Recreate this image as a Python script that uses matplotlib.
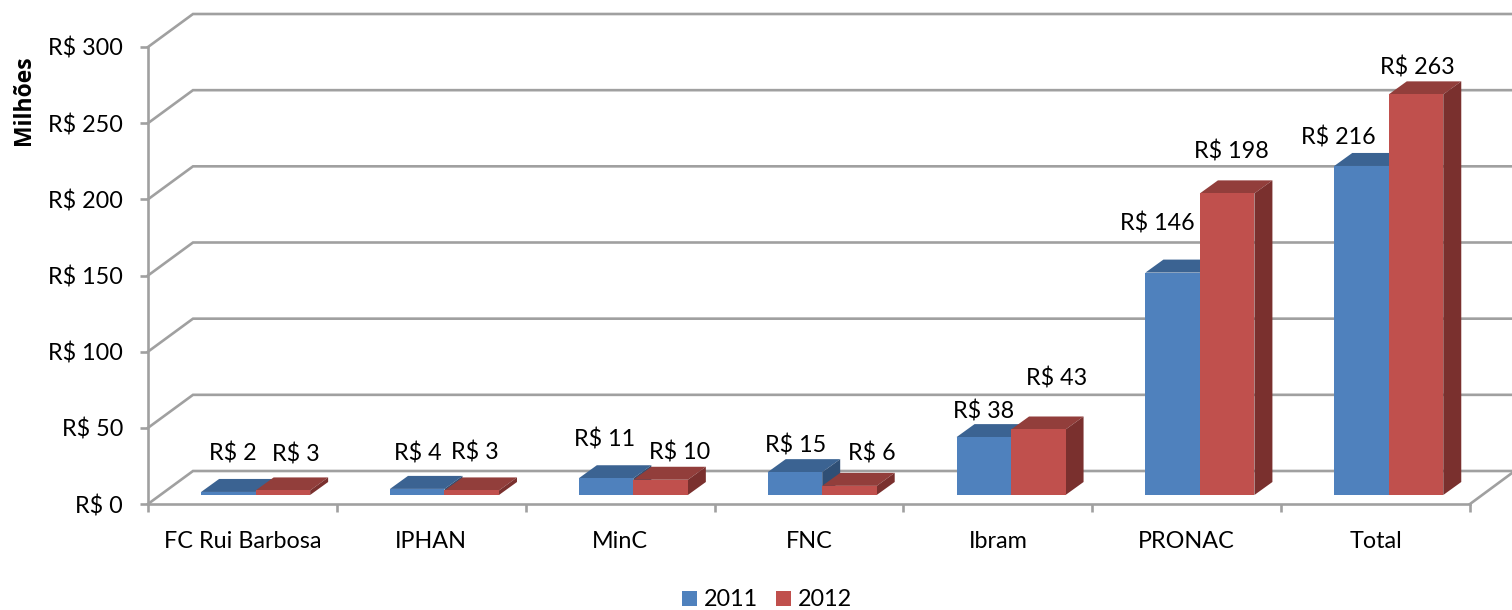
import matplotlib
matplotlib.use("Agg")
import matplotlib.pyplot as plt
from matplotlib.patches import Polygon, Patch

plt.rcParams['font.family'] = ['Lato', 'DejaVu Sans']

categories = ['FC Rui Barbosa', 'IPHAN', 'MinC', 'FNC', 'Ibram', 'PRONAC', 'Total']
values_2011 = [2, 4, 11, 15, 38, 146, 216]
values_2012 = [3, 3, 10, 6, 43, 198, 263]
y_ticks = [0, 50, 100, 150, 200, 250, 300]

# label offsets from the top-centre of each bar front, in pixels
offs_2011 = [(4, 38), (1, 35), (-2, 39), (1, 27), (0, 26), (-15, 49), (-23, 28)]
offs_2012 = [(13, 36), (3, 38), (19, 27), (22, 32), (18, 51), (4, 42), (1, 27)]

W, H = 1512, 610
L, R, T, B = 148, 1470, 47, 504
FS = 16.8
fig = plt.figure(figsize=(W / 100, H / 100), dpi=100, facecolor='white')
ax = fig.add_axes([L / W, 1 - B / H, (R - L) / W, (B - T) / H])
ax.set_xlim(-0.5, 6.5)
ax.set_ylim(0, 300)
ax.patch.set_visible(False)

px = 7 / (R - L)      # data units per pixel, x
py = 300 / (B - T)    # data units per pixel, y
GRID = '#A0A0A0'
LW = 1.9

# walls and floor
WALL_DX, WALL_DY = 45 * px, 33 * py
right_end = 6.5 + 42 * px
for v in y_ticks:
    ax.plot([-0.5, -0.5 + WALL_DX, right_end], [v, v + WALL_DY, v + WALL_DY],
            color=GRID, lw=LW, clip_on=False, zorder=1, solid_joinstyle='miter')
ax.plot([6.5, right_end], [0, 31 * py], color=GRID, lw=LW, clip_on=False, zorder=1)

# axes
for s in ('top', 'right'):
    ax.spines[s].set_visible(False)
for s in ('left', 'bottom'):
    ax.spines[s].set_color(GRID)
    ax.spines[s].set_linewidth(LW)
    ax.spines[s].set_zorder(1)
ax.set_yticks(y_ticks)
ax.set_yticklabels([f'R$ {v}' for v in y_ticks], fontsize=FS, color='black')
ax.tick_params(axis='y', length=6, width=LW, color=GRID, pad=12)
ax.set_xticks([i - 0.5 for i in range(len(categories) + 1)])
ax.set_xticklabels([])
ax.set_xticks(range(len(categories)), labels=categories, minor=True)
ax.tick_params(axis='x', which='major', length=6, width=LW, color=GRID)
ax.tick_params(axis='x', which='minor', length=0, pad=19.5, labelsize=FS)

# bars
BAR_W = 54.5 * px
SHIFT_X, BASE = 13.2 * px, 9 * py
DX, DY = 18 * px, 13 * py
BLUE = ('#4F81BD', '#3B6392', '#2F4F75')
RED = ('#C0504D', '#923E3B', '#7A302E')


def bar3d(x0, v, cols, z):
    x1 = x0 + BAR_W
    t = BASE + v
    ax.add_patch(Polygon([(x0, t), (x0 + DX, t + DY), (x1 + DX, t + DY), (x1, t)],
                         fc=cols[1], ec='none', clip_on=False, zorder=z))
    ax.add_patch(Polygon([(x1, BASE), (x1 + DX, BASE + DY), (x1 + DX, t + DY), (x1, t)],
                         fc=cols[2], ec='none', clip_on=False, zorder=z))
    ax.add_patch(Polygon([(x0, BASE), (x1, BASE), (x1, t), (x0, t)],
                         fc=cols[0], ec='none', clip_on=False, zorder=z))


for i, (a, b) in enumerate(zip(values_2011, values_2012)):
    c = i + SHIFT_X
    bar3d(c - BAR_W, a, BLUE, 3)
    bar3d(c, b, RED, 4)
    ax.annotate(f'R$ {a}', (c - BAR_W / 2, BASE + a), xytext=offs_2011[i],
                textcoords='offset pixels', ha='center', va='center',
                fontsize=FS, zorder=6, annotation_clip=False)
    ax.annotate(f'R$ {b}', (c + BAR_W / 2, BASE + b), xytext=offs_2012[i],
                textcoords='offset pixels', ha='center', va='center',
                fontsize=FS, zorder=6, annotation_clip=False)

fig.text(24 / W, 1 - 100 / H, 'Milhões', rotation=90, ha='center', va='center',
         fontsize=16.5, fontweight='bold', family=['Open Sans', 'DejaVu Sans'])

handles = [Patch(fc=BLUE[0], label='2011'), Patch(fc=RED[0], label='2012')]
fig.legend(handles=handles, ncol=2, loc='center', bbox_to_anchor=(767 / W, 1 - 600 / H),
           frameon=False, fontsize=FS, handlelength=0.64, handleheight=0.64,
           handletextpad=0.3, columnspacing=0.75, borderpad=0, borderaxespad=0)

fig.savefig('out.png', dpi=100)
